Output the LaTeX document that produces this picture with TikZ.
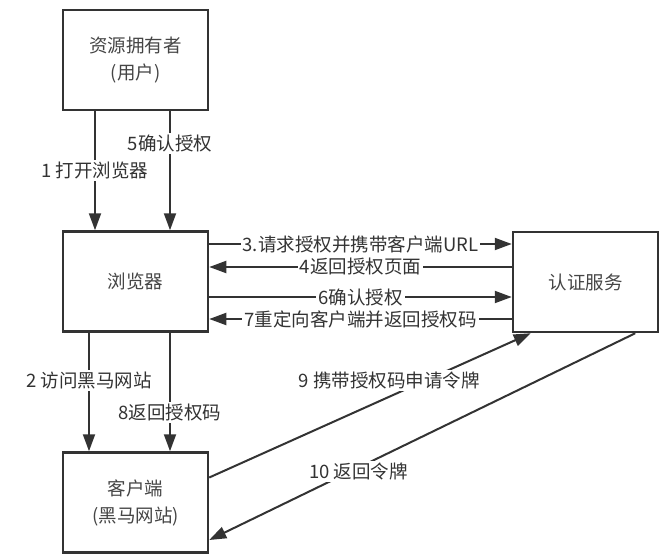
\documentclass[tikz,border=0pt]{standalone}
\usepackage{fontspec}
\setmainfont{Noto Sans CJK SC}
\usetikzlibrary{arrows.meta}
\definecolor{ink}{HTML}{333333}
\definecolor{boxtext}{HTML}{454545}

\begin{document}
\begin{tikzpicture}[x=1pt, y=-1pt,
	party/.style={draw=ink, line width=2.5pt, minimum width=145pt, minimum height=100pt,
		text=boxtext, align=center, font=\fontsize{18.5pt}{27pt}\selectfont},
	flow/.style={draw=ink, line width=2pt, -{Triangle[length=17pt,width=12pt]}},
	tag/.style={fill=white, text=ink, inner sep=2pt, font=\fontsize{18.5pt}{22pt}\selectfont}]
	\useasboundingbox (0,0) rectangle (667,557);
	% the four parties
	\node[party] (owner)   at (135.5,60)  {资源拥有者\\(用户)};
	\node[party] (browser) at (135.5,281.5) {浏览器};
	\node[party] (client)  at (135.5,502.5) {客户端\\(黑马网站)};
	\node[party] (auth)    at (585.5,282) {认证服务};
	% owner -> browser
	\draw[flow] ([xshift=-40.5pt]owner.south) -- node[tag, pos=0.5] {1 打开浏览器} ([xshift=-40.5pt]browser.north);
	\draw[flow] ([xshift=34.5pt]owner.south) -- node[tag, pos=0.27] {5确认授权} ([xshift=34.5pt]browser.north);
	% browser <-> auth
	\draw[flow] ([yshift=37.5pt]browser.east) -- node[tag] {3.请求授权并携带客户端URL} ([yshift=37.5pt]browser.east -| auth.west);
	\draw[flow] ([yshift=14.5pt]browser.east -| auth.west) -- node[tag] {4返回授权页面} ([yshift=14.5pt]browser.east);
	\draw[flow] ([yshift=-15.5pt]browser.east) -- node[tag] {6确认授权} ([yshift=-15.5pt]browser.east -| auth.west);
	\draw[flow] ([yshift=-37.5pt]browser.east -| auth.west) -- node[tag] {7重定向客户端并返回授权码} ([yshift=-37.5pt]browser.east);
	% browser -> client
	\draw[flow] ([xshift=-46.5pt]browser.south) -- node[tag, pos=0.4] {2 访问黑马网站} ([xshift=-46.5pt]client.north);
	\draw[flow] ([xshift=34.5pt]browser.south) -- node[tag, pos=0.67] {8返回授权码} ([xshift=34.5pt]client.north);
	% client <-> auth
	\draw[flow] ([yshift=25pt]client.east) -- node[tag, pos=0.56, yshift=16pt] {9 携带授权码申请令牌} ([xshift=19pt]auth.south west);
	\draw[flow] ([xshift=-24pt]auth.south east) -- node[tag, pos=0.65, yshift=-4pt] {10 返回令牌} ([yshift=-37.5pt]client.east);
\end{tikzpicture}
\end{document}
